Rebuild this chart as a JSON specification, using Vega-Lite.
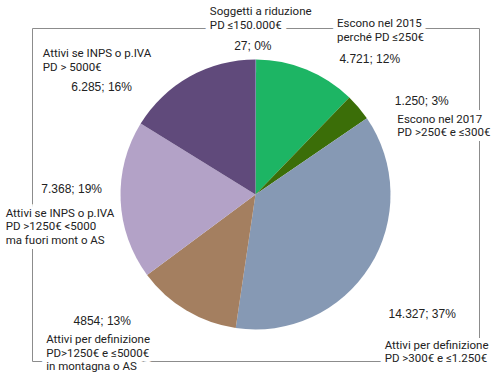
{
  "$schema": "https://vega.github.io/schema/vega-lite/v6.json",
  "width": 447,
  "height": 333,
  "autosize": {"type": "none"},
  "padding": {"left": 32, "top": 28, "right": 14, "bottom": 16},
  "background": "white",
  "view": {"stroke": "#8c8c8c", "strokeWidth": 1, "fill": null},
  "config": {"view": {"stroke": "#8c8c8c", "strokeWidth": 1}},
  "data": {
    "values": [
      {"idx": 1, "key": "Soggetti a riduzione", "name": "Soggetti a riduzione\nPD ≤150.000€", "count": 27, "lab": "27; 0%"},
      {"idx": 2, "key": "Escono nel 2015", "name": "Escono nel 2015\nperché PD ≤250€", "count": 4721, "lab": "4.721; 12%"},
      {"idx": 3, "key": "Escono nel 2017", "name": "Escono nel 2017\nPD >250€ e ≤300€", "count": 1250, "lab": "1.250; 3%"},
      {"idx": 4, "key": "Attivi def 300-1250", "name": "Attivi per definizione\nPD >300€ e ≤1.250€", "count": 14327, "lab": "14.327; 37%"},
      {"idx": 5, "key": "Attivi def montagna", "name": "Attivi per definizione\nPD>1250€ e ≤5000€\nin montagna o AS", "count": 4854, "lab": "4854; 13%"},
      {"idx": 6, "key": "Attivi INPS 1250-5000", "name": "Attivi se INPS o p.IVA\nPD >1250€ <5000\nma fuori mont o AS", "count": 7368, "lab": "7.368; 19%"},
      {"idx": 7, "key": "Attivi INPS >5000", "name": "Attivi se INPS o p.IVA\nPD > 5000€", "count": 6285, "lab": "6.285; 16%"}
    ]
  },
  "encoding": {
    "theta": {"field": "count", "type": "quantitative", "stack": true},
    "order": {"field": "idx", "type": "quantitative"}
  },
  "layer": [
    {
      "mark": {"type": "arc", "outerRadius": 135},
      "encoding": {
        "color": {
          "field": "key", "type": "nominal", "legend": null,
          "scale": {
            "domain": ["Soggetti a riduzione", "Escono nel 2015", "Escono nel 2017", "Attivi def 300-1250", "Attivi def montagna", "Attivi INPS 1250-5000", "Attivi INPS >5000"],
            "range": ["#4F81BD", "#1DB564", "#3B6E08", "#8699B4", "#A47F60", "#B3A2C7", "#604A7B"]
          }
        }
      }
    },
    {"mark": {"type": "text", "radius": 170, "dx": -46, "dy": -9.5, "align": "left", "baseline": "alphabetic", "lineBreak": "\n", "lineHeight": 13.5, "fontSize": 11.5, "font": "Roboto", "fill": "white", "stroke": "white", "strokeWidth": 10, "strokeJoin": "round"},
     "encoding": {"text": {"condition": {"test": "datum.idx == 1", "field": "name"}, "value": ""}}},
    {"mark": {"type": "text", "radius": 170, "dx": 17.5, "dy": -10, "align": "left", "baseline": "alphabetic", "lineBreak": "\n", "lineHeight": 13.5, "fontSize": 11.5, "font": "Roboto", "fill": "white", "stroke": "white", "strokeWidth": 10, "strokeJoin": "round"},
     "encoding": {"text": {"condition": {"test": "datum.idx == 2", "field": "name"}, "value": ""}}},
    {"mark": {"type": "text", "radius": 170, "dx": 12, "dy": 38, "align": "left", "baseline": "alphabetic", "lineBreak": "\n", "lineHeight": 13.5, "fontSize": 11.5, "font": "Roboto", "fill": "white", "stroke": "white", "strokeWidth": 10, "strokeJoin": "round"},
     "encoding": {"text": {"condition": {"test": "datum.idx == 3", "field": "name"}, "value": ""}}},
    {"mark": {"type": "text", "radius": 170, "dx": -15, "dy": 64, "align": "left", "baseline": "alphabetic", "lineBreak": "\n", "lineHeight": 13.5, "fontSize": 11.5, "font": "Roboto", "fill": "white", "stroke": "white", "strokeWidth": 10, "strokeJoin": "round"},
     "encoding": {"text": {"condition": {"test": "datum.idx == 4", "field": "name"}, "value": ""}}},
    {"mark": {"type": "text", "radius": 170, "dx": -122, "dy": 3, "align": "left", "baseline": "alphabetic", "lineBreak": "\n", "lineHeight": 13.5, "fontSize": 11.5, "font": "Roboto", "fill": "white", "stroke": "white", "strokeWidth": 10, "strokeJoin": "round"},
     "encoding": {"text": {"condition": {"test": "datum.idx == 5", "field": "name"}, "value": ""}}},
    {"mark": {"type": "text", "radius": 170, "dx": -80, "dy": 15, "align": "left", "baseline": "alphabetic", "lineBreak": "\n", "lineHeight": 13.5, "fontSize": 11.5, "font": "Roboto", "fill": "white", "stroke": "white", "strokeWidth": 10, "strokeJoin": "round"},
     "encoding": {"text": {"condition": {"test": "datum.idx == 6", "field": "name"}, "value": ""}}},
    {"mark": {"type": "text", "radius": 170, "dx": -46, "dy": -9.5, "align": "left", "baseline": "alphabetic", "lineBreak": "\n", "lineHeight": 13.5, "fontSize": 11.5, "font": "Roboto", "fill": "#222222"},
     "encoding": {"text": {"condition": {"test": "datum.idx == 1", "field": "name"}, "value": ""}}},
    {"mark": {"type": "text", "radius": 170, "dx": 17.5, "dy": -10, "align": "left", "baseline": "alphabetic", "lineBreak": "\n", "lineHeight": 13.5, "fontSize": 11.5, "font": "Roboto", "fill": "#222222"},
     "encoding": {"text": {"condition": {"test": "datum.idx == 2", "field": "name"}, "value": ""}}},
    {"mark": {"type": "text", "radius": 170, "dx": 12, "dy": 38, "align": "left", "baseline": "alphabetic", "lineBreak": "\n", "lineHeight": 13.5, "fontSize": 11.5, "font": "Roboto", "fill": "#222222"},
     "encoding": {"text": {"condition": {"test": "datum.idx == 3", "field": "name"}, "value": ""}}},
    {"mark": {"type": "text", "radius": 170, "dx": -15, "dy": 64, "align": "left", "baseline": "alphabetic", "lineBreak": "\n", "lineHeight": 13.5, "fontSize": 11.5, "font": "Roboto", "fill": "#222222"},
     "encoding": {"text": {"condition": {"test": "datum.idx == 4", "field": "name"}, "value": ""}}},
    {"mark": {"type": "text", "radius": 170, "dx": -122, "dy": 3, "align": "left", "baseline": "alphabetic", "lineBreak": "\n", "lineHeight": 13.5, "fontSize": 11.5, "font": "Roboto", "fill": "#222222"},
     "encoding": {"text": {"condition": {"test": "datum.idx == 5", "field": "name"}, "value": ""}}},
    {"mark": {"type": "text", "radius": 170, "dx": -80, "dy": 15, "align": "left", "baseline": "alphabetic", "lineBreak": "\n", "lineHeight": 13.5, "fontSize": 11.5, "font": "Roboto", "fill": "#222222"},
     "encoding": {"text": {"condition": {"test": "datum.idx == 6", "field": "name"}, "value": ""}}},
    {"mark": {"type": "text", "radius": 170, "dx": -130, "dy": 11, "align": "left", "baseline": "alphabetic", "lineBreak": "\n", "lineHeight": 13.5, "fontSize": 11.5, "font": "Roboto", "fill": "#222222"},
     "encoding": {"text": {"condition": {"test": "datum.idx == 7", "field": "name"}, "value": ""}}},
    {"mark": {"type": "text", "radius": 160, "dx": -3, "dy": 15.5, "align": "center", "baseline": "alphabetic", "fontSize": 12, "font": "Liberation Sans", "fill": "#222222"},
     "encoding": {"text": {"condition": {"test": "datum.idx == 1", "field": "lab"}, "value": ""}}},
    {"mark": {"type": "text", "radius": 160, "dx": 54, "dy": 17, "align": "center", "baseline": "alphabetic", "fontSize": 12, "font": "Liberation Sans", "fill": "#222222"},
     "encoding": {"text": {"condition": {"test": "datum.idx == 2", "field": "lab"}, "value": ""}}},
    {"mark": {"type": "text", "radius": 160, "dx": 44, "dy": 14, "align": "center", "baseline": "alphabetic", "fontSize": 12, "font": "Liberation Sans", "fill": "#222222"},
     "encoding": {"text": {"condition": {"test": "datum.idx == 3", "field": "lab"}, "value": ""}}},
    {"mark": {"type": "text", "radius": 160, "dx": 31, "dy": 39, "align": "center", "baseline": "alphabetic", "fontSize": 12, "font": "Liberation Sans", "fill": "#222222"},
     "encoding": {"text": {"condition": {"test": "datum.idx == 4", "field": "lab"}, "value": ""}}},
    {"mark": {"type": "text", "radius": 160, "dx": -71, "dy": -7, "align": "center", "baseline": "alphabetic", "fontSize": 12, "font": "Liberation Sans", "fill": "#222222"},
     "encoding": {"text": {"condition": {"test": "datum.idx == 5", "field": "lab"}, "value": ""}}},
    {"mark": {"type": "text", "radius": 160, "dx": -24, "dy": -8, "align": "center", "baseline": "alphabetic", "fontSize": 12, "font": "Liberation Sans", "fill": "#222222"},
     "encoding": {"text": {"condition": {"test": "datum.idx == 6", "field": "lab"}, "value": ""}}},
    {"mark": {"type": "text", "radius": 160, "dx": -76, "dy": 36, "align": "center", "baseline": "alphabetic", "fontSize": 12, "font": "Liberation Sans", "fill": "#222222"},
     "encoding": {"text": {"condition": {"test": "datum.idx == 7", "field": "lab"}, "value": ""}}}
  ]
}
